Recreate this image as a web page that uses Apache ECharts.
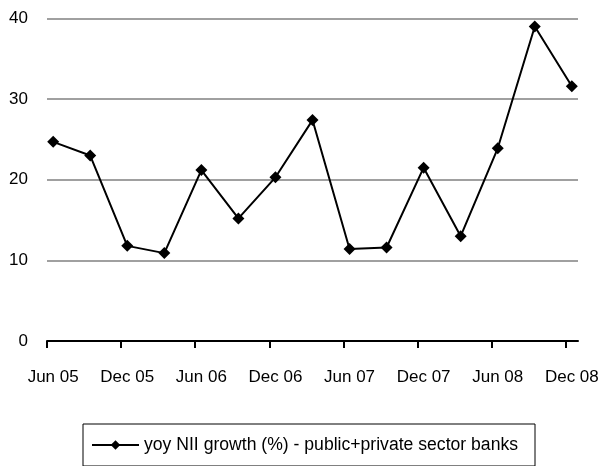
<!DOCTYPE html>
<html>
<head>
<meta charset="utf-8">
<script src="https://cdn.jsdelivr.net/npm/echarts@6/dist/echarts.min.js"></script>
<style>
  html, body { margin: 0; padding: 0; background: #fff; }
  #chart { width: 602px; height: 466px; }
</style>
</head>
<body>
<div id="chart"></div>
<script>
// Quarter-end observations
var quarters = ['Jun 05', 'Sep 05', 'Dec 05', 'Mar 06', 'Jun 06', 'Sep 06', 'Dec 06', 'Mar 07',
                'Jun 07', 'Sep 07', 'Dec 07', 'Mar 08', 'Jun 08', 'Sep 08', 'Dec 08'];
var niiGrowth = [24.7, 23.0, 11.8, 10.9, 21.2, 15.2, 20.3, 27.4,
                 11.4, 11.6, 21.5, 13.0, 23.9, 39.0, 31.6];
var seriesName = 'yoy NII growth (%) - public+private sector banks';
var xTickLabels = ['Jun 05', 'Dec 05', 'Jun 06', 'Dec 06', 'Jun 07', 'Dec 07', 'Jun 08', 'Dec 08'];
var yTicks = [0, 10, 20, 30, 40];

// The x axis runs in months: month 0 is Jun 05, month 42 is Dec 08.
// Each month occupies one unit; points and labels sit at the middle of their month.
var MONTHS_PER_QUARTER = 3;
var MONTHS_PER_LABEL = 6;
var monthCount = (quarters.length - 1) * MONTHS_PER_QUARTER + 1;

var tickValues = xTickLabels.map(function (_, i) { return i * MONTHS_PER_LABEL; });
var labelValues = tickValues.map(function (v) { return v + 0.5; });
var points = niiGrowth.map(function (v, i) { return [i * MONTHS_PER_QUARTER + 0.5, v]; });

var font = '"Liberation Sans", Arial, sans-serif';
var fontSize = 17;

var chart = echarts.init(document.getElementById('chart'), null, { renderer: 'canvas' });
chart.setOption({
  animation: false,
  backgroundColor: '#ffffff',
  textStyle: { fontFamily: font },
  grid: { left: 47, right: 24, top: 18.5, bottom: 125, containLabel: false },
  legend: {
    left: 83,
    top: 424,
    padding: [12, 17, 12, 8],
    borderColor: '#000',
    borderWidth: 1,
    itemWidth: 47,
    itemHeight: 12,
    itemGap: 5,
    textStyle: { fontFamily: font, fontSize: 17.6, color: '#000' },
    data: [seriesName]
  },
  xAxis: {
    type: 'value',
    min: 0,
    max: monthCount,
    axisLine: { show: true, onZero: false, lineStyle: { color: '#000', width: 2 } },
    axisTick: { show: true, customValues: tickValues, length: 7, lineStyle: { color: '#000', width: 2 } },
    axisLabel: {
      customValues: labelValues,
      margin: 28,
      fontFamily: font,
      fontSize: fontSize,
      color: '#000',
      formatter: function (v) {
        return xTickLabels[Math.round((v - 0.5) / MONTHS_PER_LABEL)];
      }
    },
    splitLine: { show: false }
  },
  yAxis: {
    type: 'value',
    min: yTicks[0],
    max: yTicks[yTicks.length - 1],
    interval: 10,
    axisLine: { show: false },
    axisTick: { show: false },
    axisLabel: { margin: 19, fontFamily: font, fontSize: fontSize, color: '#000' },
    splitLine: { show: true, lineStyle: { color: '#a0a0a0', width: 2 } }
  },
  series: [{
    name: seriesName,
    type: 'line',
    data: points,
    symbol: 'diamond',
    symbolSize: 12,
    showAllSymbol: true,
    lineStyle: { color: '#000', width: 2 },
    itemStyle: { color: '#000' },
    z: 3
  }]
});
</script>
</body>
</html>
